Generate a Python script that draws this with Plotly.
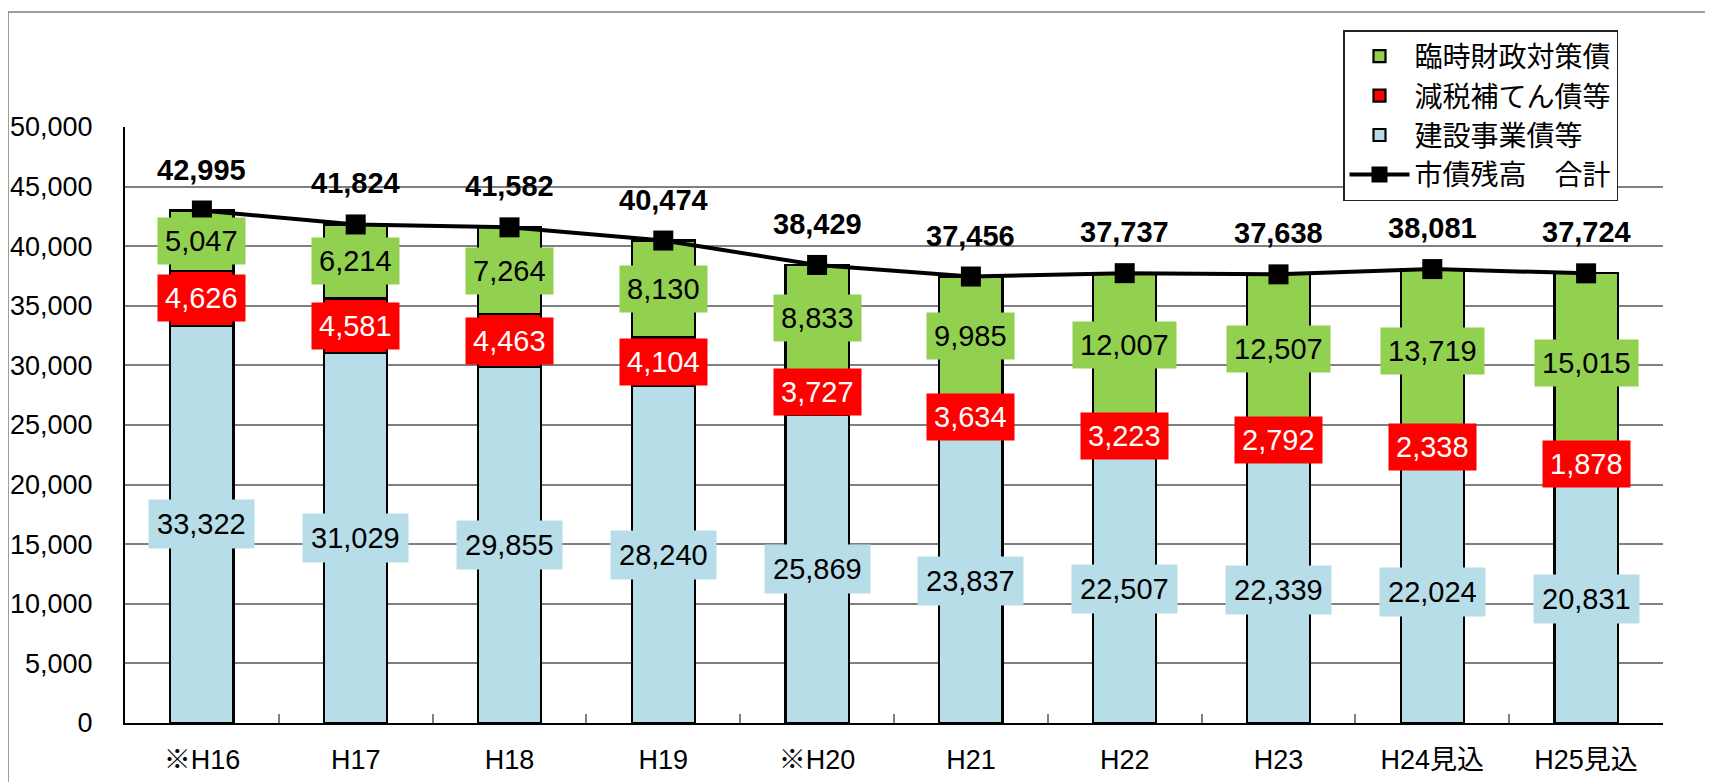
import plotly.graph_objects as go

categories = ["※H16", "H17", "H18", "H19", "※H20", "H21", "H22", "H23", "H24見込", "H25見込"]
construction = [33322, 31029, 29855, 28240, 25869, 23837, 22507, 22339, 22024, 20831]
tax_reduction = [4626, 4581, 4463, 4104, 3727, 3634, 3223, 2792, 2338, 1878]
temporary = [5047, 6214, 7264, 8130, 8833, 9985, 12007, 12507, 13719, 15015]
total = [42995, 41824, 41582, 40474, 38429, 37456, 37737, 37638, 38081, 37724]
y_ticks = list(range(0, 50001, 5000))

FONT = "Liberation Sans, Arial, Noto Sans CJK JP, sans-serif"
JFONT = "Noto Sans CJK JP, sans-serif"
GREEN = "#92D050"
RED = "#FF0000"
BLUE = "#B7DDE8"

fig = go.Figure()
fig.add_trace(go.Bar(x=categories, y=construction, name="建設事業債等", marker=dict(color=BLUE, line=dict(color="black", width=2.2)), legendrank=3))
fig.add_trace(go.Bar(x=categories, y=tax_reduction, name="減税補てん債等", marker=dict(color=RED, line=dict(color="black", width=2.2)), legendrank=2))
fig.add_trace(go.Bar(x=categories, y=temporary, name="臨時財政対策債", marker=dict(color=GREEN, line=dict(color="black", width=2.2)), legendrank=1))
fig.add_trace(go.Scatter(x=categories, y=total, name="市債残高　合計", mode="lines+markers",
                         line=dict(color="black", width=4),
                         marker=dict(symbol="square", size=20, color="black"), legendrank=4))

annotations = []
for i, c in enumerate(categories):
    b, r, g, t = construction[i], tax_reduction[i], temporary[i], total[i]
    annotations.append(dict(x=c, y=b / 2, text=f"{b:,}", showarrow=False, bgcolor=BLUE, borderpad=8,
                            font=dict(family=FONT, size=29, color="black")))
    annotations.append(dict(x=c, y=b + r / 2, text=f"{r:,}", showarrow=False, bgcolor=RED, borderpad=7,
                            font=dict(family=FONT, size=29, color="white")))
    annotations.append(dict(x=c, y=b + r + g / 2, text=f"{g:,}", showarrow=False, bgcolor=GREEN, borderpad=7,
                            font=dict(family=FONT, size=29, color="black")))
    annotations.append(dict(x=c, y=t, yshift=41, text=f"<b>{t:,}</b>", showarrow=False,
                            font=dict(family=FONT, size=29, color="black")))

# the page body adds an 8px margin; plot area is kept at page px x 125..1663, y 127..723
fig.update_layout(
    width=1705, height=774,
    barmode="stack", bargap=0.59,
    paper_bgcolor="white", plot_bgcolor="white",
    margin=dict(l=117, r=50, t=119, b=59),
    font=dict(family=FONT, size=26, color="black"),
    hovermode=False,
    annotations=annotations,
    showlegend=True,
    legend=dict(x=(1343 - 125) / 1538, y=(723 - 30) / 596, xanchor="left", yanchor="top", traceorder="normal",
                bgcolor="white", bordercolor="#222222", borderwidth=1.5,
                font=dict(family=JFONT, size=28, color="black"), itemwidth=60, tracegroupgap=0),
    xaxis=dict(type="category", range=[-0.5, len(categories) - 0.5], automargin=False,
               showline=True, linecolor="black", linewidth=2,
               ticks="inside", tickson="boundaries", ticklen=9, tickcolor="#808080", tickwidth=1.5,
               tickfont=dict(family=FONT, size=27), showgrid=False, ticklabelstandoff=12),
    yaxis=dict(range=[0, 50000], tickvals=y_ticks, ticktext=[f"{v:,}" for v in y_ticks], automargin=False,
               showline=True, linecolor="black", linewidth=2, ticks="",
               showgrid=True, gridcolor="#808080", gridwidth=1.5, zeroline=False,
               tickfont=dict(family=FONT, size=27), ticklabelstandoff=25),
    shapes=[dict(type="rect", xref="paper", yref="paper",
                 x0=(8 - 125) / 1538, x1=(1730 - 125) / 1538,
                 y0=(723 - 800) / 596, y1=(723 - 12) / 596,
                 line=dict(color="#808080", width=1.5), layer="below")],
)

fig.write_html("out.html")
